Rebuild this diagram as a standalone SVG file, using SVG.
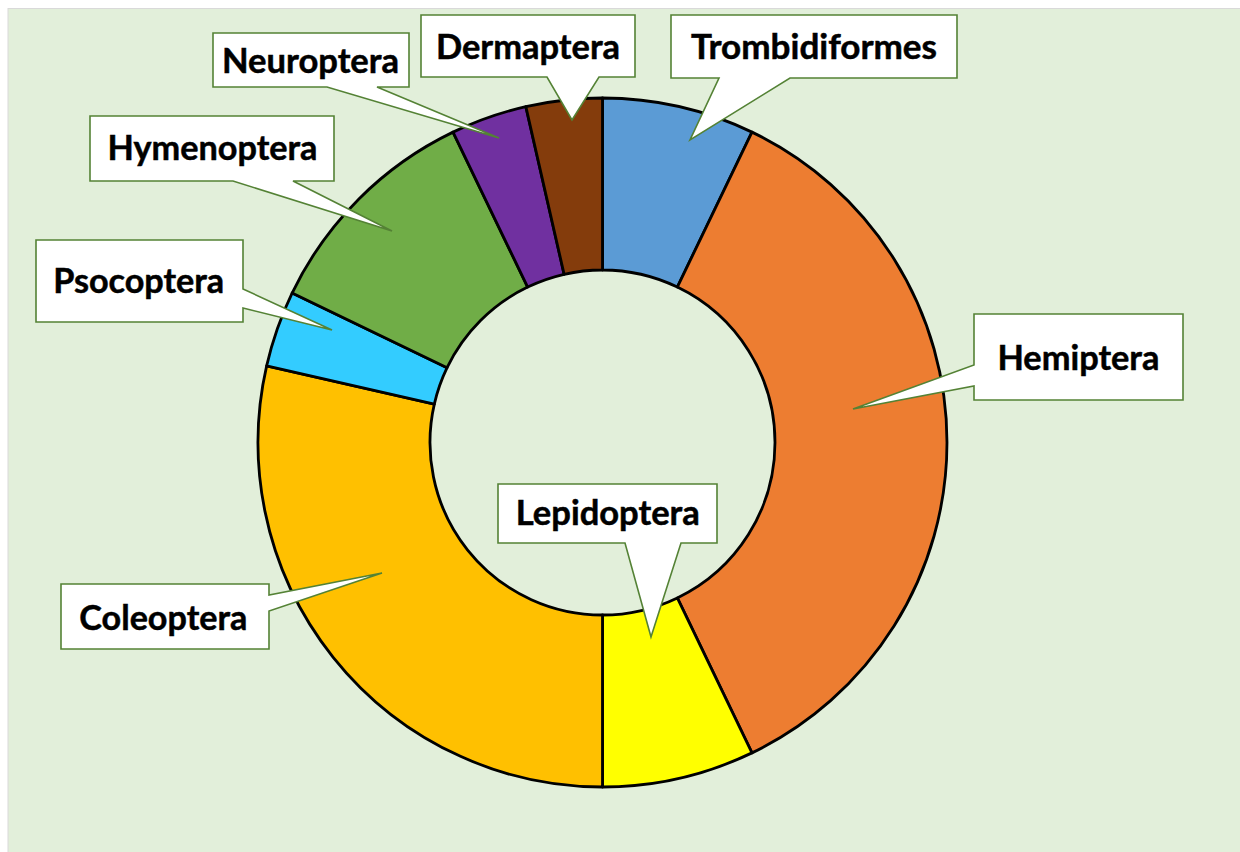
<svg xmlns="http://www.w3.org/2000/svg" width="1240" height="852" viewBox="0 0 1240 852">
<style>
.slice{stroke:#000;stroke-width:2.8;stroke-linejoin:round}
.callout{fill:#fff;stroke:#548235;stroke-width:1.6;stroke-linejoin:miter}
.lbl{font-family:Lato,"Liberation Sans",sans-serif;font-weight:bold;font-size:34px;fill:#000;stroke:#000;stroke-width:0.5;text-anchor:middle}
</style>
<rect x="0" y="0" width="1240" height="852" fill="#fff"/>
<rect x="8" y="8.5" width="1240" height="852" fill="#E2EFDA" stroke="#D9D9D9" stroke-width="1"/>
<g id="ring">
<g id="slice-trombidiformes"><path class="slice" fill="#5B9BD5" d="M602.5,98 A344.5,344.5 0 0 1 751.97,132.12 L677.34,287.08 A172.5,172.5 0 0 0 602.5,270 Z"/></g>
<g id="slice-hemiptera"><path class="slice" fill="#ED7D31" d="M751.97,132.12 A344.5,344.5 0 0 1 751.97,752.88 L677.34,597.92 A172.5,172.5 0 0 0 677.34,287.08 Z"/></g>
<g id="slice-lepidoptera"><path class="slice" fill="#FFFF00" d="M751.97,752.88 A344.5,344.5 0 0 1 602.5,787 L602.5,615 A172.5,172.5 0 0 0 677.34,597.92 Z"/></g>
<g id="slice-coleoptera"><path class="slice" fill="#FFC000" d="M602.5,787 A344.5,344.5 0 0 1 266.64,365.84 L434.32,404.12 A172.5,172.5 0 0 0 602.5,615 Z"/></g>
<g id="slice-psocoptera"><path class="slice" fill="#33CCFF" d="M266.64,365.84 A344.5,344.5 0 0 1 292.12,293.03 L447.08,367.66 A172.5,172.5 0 0 0 434.32,404.12 Z"/></g>
<g id="slice-hymenoptera"><path class="slice" fill="#70AD47" d="M292.12,293.03 A344.5,344.5 0 0 1 453.03,132.12 L527.66,287.08 A172.5,172.5 0 0 0 447.08,367.66 Z"/></g>
<g id="slice-neuroptera"><path class="slice" fill="#7030A0" d="M453.03,132.12 A344.5,344.5 0 0 1 525.84,106.64 L564.12,274.32 A172.5,172.5 0 0 0 527.66,287.08 Z"/></g>
<g id="slice-dermaptera"><path class="slice" fill="#843C0C" d="M525.84,106.64 A344.5,344.5 0 0 1 602.5,98 L602.5,270 A172.5,172.5 0 0 0 564.12,274.32 Z"/></g>
</g>
<g id="connectors"></g>
<g id="label-trombidiformes"><path class="callout" d="M671,15 H957 V78 H790 L690,140 L719,78 H671 Z"/><text class="lbl" x="814" y="59" textLength="246" lengthAdjust="spacingAndGlyphs">Trombidiformes</text></g>
<g id="label-dermaptera"><path class="callout" d="M421,15 H635 V77 H599 L572,120 L547,77 H421 Z"/><text class="lbl" x="528" y="58.5" textLength="184" lengthAdjust="spacingAndGlyphs">Dermaptera</text></g>
<g id="label-neuroptera"><path class="callout" d="M213,33 H409 V87 H377 L499,138 L327,87 H213 Z"/><text class="lbl" x="310.5" y="72.5" textLength="177" lengthAdjust="spacingAndGlyphs">Neuroptera</text></g>
<g id="label-hymenoptera"><path class="callout" d="M90,116 H334 V181 H293 L392,231 L233,181 H90 Z"/><text class="lbl" x="212.5" y="160" textLength="210" lengthAdjust="spacingAndGlyphs">Hymenoptera</text></g>
<g id="label-psocoptera"><path class="callout" d="M36,240 H243 V289 L332,330 L243,308 V322 H36 Z"/><text class="lbl" x="138.7" y="293" textLength="171" lengthAdjust="spacingAndGlyphs">Psocoptera</text></g>
<g id="label-coleoptera"><path class="callout" d="M61,584 H269 V595 L382,573 L269,611 V649 H61 Z"/><text class="lbl" x="163.3" y="630" textLength="168" lengthAdjust="spacingAndGlyphs">Coleoptera</text></g>
<g id="label-lepidoptera"><path class="callout" d="M498,484 H717 V543 H681 L651,637 L625,543 H498 Z"/><text class="lbl" x="607.8" y="525" textLength="184" lengthAdjust="spacingAndGlyphs">Lepidoptera</text></g>
<g id="label-hemiptera"><path class="callout" d="M974,314 H1183 V400 H974 V386 L853,409 L974,365 Z"/><text class="lbl" x="1078.4" y="370" textLength="162" lengthAdjust="spacingAndGlyphs">Hemiptera</text></g>
</svg>
